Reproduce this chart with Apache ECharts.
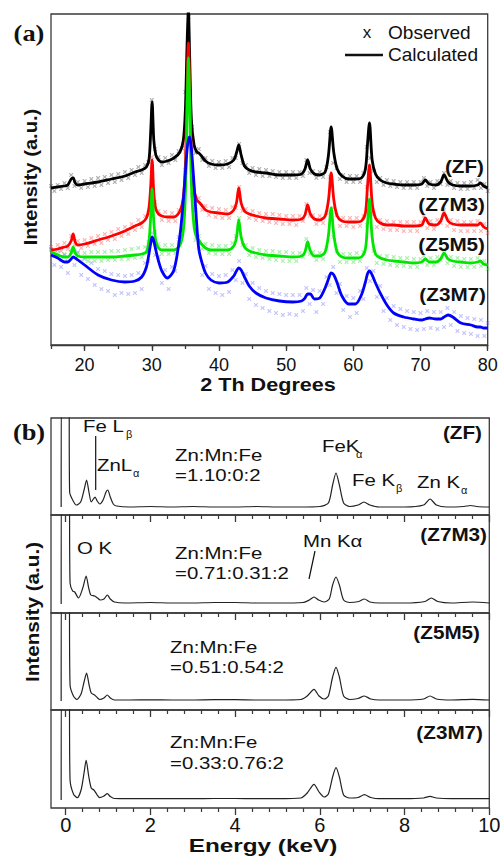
<!DOCTYPE html>
<html><head><meta charset="utf-8">
<script src="https://cdn.jsdelivr.net/npm/echarts@6/dist/echarts.min.js"></script>
<style>html,body{margin:0;padding:0;background:#fff}#c{width:504px;height:859px}</style>
</head><body><div id="c"></div>
<script>
// ---------- (a) XRD: calculated curves (2θ, intensity a.u.) ----------
const calcX = [15,16,17,17.5,18,18.3,18.6,19,20,22, 24,26,27.5,28.5,29.2,29.6,29.85,30.05,30.3,30.6,
  31,31.5,32.3,33.3,34.2,34.7,35.0,35.25,35.45,35.65, 35.9,36.3,36.7,37.0,37.4,38,38.8,40,41.3,42.2,
  42.6,42.95,43.3,43.8,44.5,45.5,47,49,51,52.3, 52.8,53.2,53.6,54.2,55,55.8,56.3,56.7,57.1,57.6,
  58.3,59.3,60.3,61.2,61.8,62.1,62.4,62.8,63.3,64, 65,66,67.5,69,70.2,70.7,71.3,72.3,73,73.5,
  74.1,74.8,76,77.5,78.5,78.9,79.4,80];
const calcZF = [157,158,159,160,166,167,162,160,161,163, 166,169,173,175,178,186,215,243,205,190,
  185,183,184,187,193,205,235,300,335,285, 225,200,193,192,189,184,181,180,181,185,
  192,200,190,179,175,173,172,170,170,171, 176,185,176,171,170,173,190,218,192,176,
  169,166,166,167,176,200,222,185,171,165, 162,161,160,160,161,165,161,160,163,170,
  163,160,159,159,160,162,159,157];
const calcZ7M3 = [95,96,98,99,104,111,103,100,101,105, 109,114,119,122,127,138,160,185,152,136,
  131,129,128,128,134,148,180,250,302,255, 190,155,145,143,140,135,133,132,131,135,
  142,157,142,134,131,129,127,126,125,126, 130,140,131,126,125,129,145,172,145,129,
  124,123,123,124,132,158,180,142,127,122, 120,120,119,119,120,127,121,120,124,132,
  124,121,120,120,120,122,118,116];
const calcZ5M5 = [93,90,88,88,92,98,92,89,88,88, 88,89,90,91,93,105,130,156,123,104,
  97,95,95,95,100,115,150,230,287,240, 160,118,107,105,101,97,95,95,95,99,
  107,125,108,98,94,92,90,89,88,89, 93,103,94,89,89,93,110,137,110,93,
  88,87,87,88,96,120,146,108,91,87, 85,84,83,82,83,86,83,83,86,92,
  86,84,83,82,83,84,81,80];
const calcZ3M7 = [90,87,83,83,86,88,87,85,80,70, 65,63,64,68,78,92,102,108,104,95,
  84,74,67,75,110,145,172,195,205,208, 196,160,120,96,84,72,65,62,63,69,
  74,77,75,68,59,52,47,44,43,44, 47,51,51,46,47,57,66,72,70,62,
  49,41,41,50,63,71,74,70,62,52, 40,32,28,26,25,26,27,26,26,28,
  30,28,22,20,18,18,17,17];

// ---------- (a) XRD: observed points, 2θ = 15 … 80 every 0.5 ----------
const obsX = [15,15.5,16,16.5,17,17.5,18,18.5,19,19.5, 20,20.5,21,21.5,22,22.5,23,23.5,24,24.5,
  25,25.5,26,26.5,27,27.5,28,28.5,29,29.5, 30,30.5,31,31.5,32,32.5,33,33.5,34,34.5,
  35,35.5,36,36.5,37,37.5,38,38.5,39,39.5, 40,40.5,41,41.5,42,42.5,43,43.5,44,44.5,
  45,45.5,46,46.5,47,47.5,48,48.5,49,49.5, 50,50.5,51,51.5,52,52.5,53,53.5,54,54.5,
  55,55.5,56,56.5,57,57.5,58,58.5,59,59.5, 60,60.5,61,61.5,62,62.5,63,63.5,64,64.5,
  65,65.5,66,66.5,67,67.5,68,68.5,69,69.5, 70,70.5,71,71.5,72,72.5,73,73.5,74,74.5,
  75,75.5,76,76.5,77,77.5,78,78.5,79,79.5, 80];
const obsZF = [159,154,160,156,162,157,170,159,163,157, 164,158,166,159,167,160,168,162,170,163,
  171,165,173,167,175,170,178,172,180,183, 245,196,188,180,187,182,190,185,194,197,
  253,328,218,192,196,185,187,179,184,177, 183,177,184,178,187,187,201,182,180,172,
  177,170,176,169,175,169,174,168,173,167, 173,167,173,167,173,169,185,172,174,167,
  173,168,178,213,182,177,166,170,163,169, 163,169,163,172,198,187,174,163,167,160,
  165,159,164,158,163,157,163,157,163,157, 163,167,159,163,157,164,161,172,160,164,
  157,162,156,162,156,163,157,165,157,161, 154];
const obsZ7M3 = [98,93,100,94,102,96,109,100,104,97, 105,99,107,101,109,102,111,105,113,106,
  116,109,118,111,121,115,125,118,129,132, 188,143,134,125,133,124,132,124,135,137,
  193,287,179,141,147,135,139,130,137,128, 136,127,135,127,138,137,158,134,136,127,
  134,125,132,124,131,123,131,122,130,121, 129,121,129,120,129,124,141,129,130,121,
  129,122,132,168,137,130,119,127,119,127, 118,127,119,129,158,173,131,118,125,116,
  124,115,123,115,123,114,123,114,123,114, 123,129,117,124,116,125,122,135,119,125,
  115,124,114,123,114,123,114,124,114,121, 112];
const obsZ5M5 = [95,89,92,85,91,84,95,94,92,84, 92,84,93,84,93,84,93,85,94,85,
  94,86,95,86,96,87,97,88,98,103, 158,113,101,91,100,91,100,92,103,114,
  170,285,150,105,109,96,101,92,100,91, 99,91,99,91,102,109,127,100,100,90,
  97,88,95,87,94,86,94,85,93,84, 93,84,92,84,92,88,106,91,93,85,
  92,86,97,133,108,94,83,91,83,91, 83,92,84,93,120,140,94,82,89,81,
  89,80,88,79,87,79,87,78,86,78, 86,89,80,87,80,88,85,95,82,88,
  79,87,78,86,78,86,78,87,79,84, 76];
const obsZ3M7 = [96,80,95,78,90,72,93,80,93,70, 86,66,82,60,76,56,74,54,71,50,
  70,52,69,51,70,52,72,56,82,84, 112,90,88,62,75,56,78,74,108,122,
  175,200,196,135,102,70,79,56,71,52, 69,50,70,53,75,65,84,62,71,46,
  62,40,57,37,54,34,52,32,51,30, 50,31,50,30,50,34,57,41,55,33,
  54,41,68,60,78,52,61,35,49,28, 47,32,54,46,77,64,74,48,59,34,
  47,25,39,20,36,18,34,16,33,15, 32,16,34,17,33,16,33,18,37,20,
  33,14,29,12,27,11,26,9,25,9, 22];

// ---------- (b) EDS spectra (energy keV, counts a.u.) ----------
const zfE = [-0.11,-0.09,0.07,0.09,0.15,0.25,0.35,0.43,0.49,0.55, 0.6,0.65,0.69,0.74,0.8,0.88,0.95,0.99,1.05,1.12,
  1.2,1.5,2,2.5,3,3.5,4,4.5,5,5.5, 6.0,6.2,6.3,6.38,6.46,6.56,6.7,6.9,7.04,7.18,
  7.4,8,8.45,8.6,8.75,9.0,9.4,9.56,9.7,10];
const zfI = [8,150,150,23,16,10,13,25,35,22, 13,16,18,14,11,15,23,25,18,11,
  9,8,8.5,8,8.5,8,8,8.5,8,8, 8.5,12,30,42,30,12,8.5,10,13,10,
  8,8,10,16,10,8,8.5,9.5,8.5,8];
const z7m3E = [-0.11,-0.09,0.07,0.1,0.16,0.21,0.3,0.4,0.48,0.54, 0.59,0.68,0.75,0.81,0.9,0.98,1.05,1.15,1.4,2,
  2.5,3,3.5,4,4.5,5,5.6,5.75,5.86,5.97, 6.1,6.22,6.3,6.38,6.46,6.56,6.7,6.92,7.05,7.18,
  7.4,8,8.48,8.63,8.78,9.1,9.6,10];
const z7m3I = [9,150,150,30,22,21,15,25,37,25, 18,17,15,13,14,18,14,11,10,10.5,
  10,10,10.5,10.5,10,10,10.5,13,16,13, 11,14,28,36,28,13,10.5,11.5,14,11,
  10,10,11.5,15,11.5,10,11,10];
const z5m5E = [-0.11,-0.09,0.07,0.1,0.18,0.26,0.36,0.43,0.49,0.55, 0.6,0.68,0.75,0.8,0.9,0.98,1.05,1.15,1.5,2,
  2.5,3,3.5,4,4.5,5,5.55,5.7,5.86,5.98, 6.1,6.2,6.3,6.38,6.46,6.56,6.7,6.9,7.05,7.2,
  7.4,8,8.45,8.6,8.75,9.1,9.6,10];
const z5m5I = [9,150,150,25,14,10.5,16,28,37,25, 17,15,12,10.5,12,15,12,10,10,10.2,
  10,10,10.3,10.3,10,10,10.5,14,20.7,14, 11,14,33,42.7,33,14,10.5,11.5,14,11,
  10,10,11,14,11,10,10.7,10];
const z3m7E = [-0.11,-0.09,0.07,0.1,0.18,0.27,0.36,0.43,0.48,0.54, 0.6,0.67,0.74,0.8,0.9,0.98,1.05,1.15,1.5,2,
  2.5,3,3.5,4,4.5,5,5.55,5.7,5.86,5.98, 6.1,6.2,6.3,6.38,6.46,6.56,6.7,6.9,7.05,7.2,
  7.4,8,8.45,8.6,8.75,9.1,9.6,10];
const z3m7I = [8,150,150,28,14,10.3,18,35,47.7,32, 20,17.7,13,10.3,12,14.3,11.5,9.5,9.3,9.5,
  9.3,9.3,9.5,9.5,9.3,9.3,10,15,23.7,16, 11,14,31,40.3,31,13,10,10.5,13.3,10.5,
  9.3,9.3,10,11.7,10,9.3,9.5,9.3];

const xrdTickLabels = [20,30,40,50,60,70,80];
const edsTickLabels = [0,2,4,6,8,10];

// ---------- chart ----------
const zip = (a, b) => a.map((v, i) => [v, b[i]]);
const chart = echarts.init(document.getElementById('c'), null, {renderer: 'svg'});
const AX = '#3a3a3a';
const FONT = '"Liberation Sans", Arial, sans-serif';

const topGrid = {left: 51, top: 14, width: 436.7, height: 331};
const edsTop = [418, 515, 613, 710];
const edsH = [97, 98, 97, 98];

const grids = [
  Object.assign({show: true, borderColor: AX, borderWidth: 1.3}, topGrid),
  {left: 84.6, top: 14, width: 403.1, height: 331}
];
const xAxes = [
  {gridIndex: 0, type: 'value', min: 15, max: 80, interval: 5,
   axisLine: {show: true, lineStyle: {color: AX, width: 1.3}},
   axisTick: {show: true, length: 4, lineStyle: {color: AX, width: 1.3}},
   axisLabel: {show: false}, splitLine: {show: false}},
  {gridIndex: 1, type: 'value', min: xrdTickLabels[0], max: xrdTickLabels[xrdTickLabels.length - 1], interval: 10,
   axisLine: {show: false},
   axisTick: {show: true, length: 6, lineStyle: {color: AX, width: 1.3}},
   axisLabel: {show: true, fontSize: 18, color: '#111', margin: 11, fontFamily: FONT},
   splitLine: {show: false}}
];
const yAxes = [
  {gridIndex: 0, type: 'value', min: 0, max: 331, show: false},
  {gridIndex: 1, type: 'value', min: 0, max: 331, show: false}
];
edsTop.forEach((t, i) => {
  grids.push({left: 51, top: t, width: 438.3, height: edsH[i], show: true, borderColor: AX, borderWidth: 1.3});
  grids.push({left: 65.7, top: t, width: 423.6, height: edsH[i]});
  xAxes.push({gridIndex: 2 + 2 * i, type: 'value', min: -0.35, max: 10, show: false});
  xAxes.push({gridIndex: 3 + 2 * i, type: 'value', min: edsTickLabels[0], max: edsTickLabels[edsTickLabels.length - 1], interval: 2,
    axisLine: {show: false},
    axisTick: {show: true, length: 7, lineStyle: {color: AX, width: 1.3}},
    minorTick: {show: true, splitNumber: 5, length: 4, lineStyle: {color: AX, width: 1.2}},
    axisLabel: {show: i === 3, fontSize: 20, color: '#111', margin: 7, fontFamily: FONT},
    splitLine: {show: false}, minorSplitLine: {show: false}});
  yAxes.push({gridIndex: 2 + 2 * i, type: 'value', min: 0, max: edsH[i], show: false});
  yAxes.push({gridIndex: 3 + 2 * i, type: 'value', min: 0, max: edsH[i], show: false});
});

const xMark = 'path://M0 0L2 0L5 3L8 0L10 0L10 2L7 5L10 8L10 10L8 10L5 7L2 10L0 10L0 8L3 5L0 2Z';
function obs(name, ys, color) {
  return {type: 'scatter', name: name, xAxisIndex: 0, yAxisIndex: 0, data: zip(obsX, ys),
    symbol: xMark, symbolSize: 4, itemStyle: {color: color}, silent: true, z: 2};
}
function calc(name, ys, color) {
  return {type: 'line', name: name, xAxisIndex: 0, yAxisIndex: 0, data: zip(calcX, ys),
    showSymbol: false, smooth: 0.3, lineStyle: {color: color, width: 2.8}, silent: true, z: 3, clip: true};
}
const series = [
  obs('ZF observed', obsZF, 'rgba(70,70,70,0.55)'),
  obs('Z7M3 observed', obsZ7M3, 'rgba(255,80,80,0.55)'),
  obs('Z5M5 observed', obsZ5M5, 'rgba(60,220,60,0.55)'),
  obs('Z3M7 observed', obsZ3M7, 'rgba(90,90,255,0.45)'),
  calc('ZF calculated', calcZF, '#000000'),
  calc('Z7M3 calculated', calcZ7M3, '#ff0000'),
  calc('Z5M5 calculated', calcZ5M5, '#00e600'),
  calc('Z3M7 calculated', calcZ3M7, '#0000ff')
];
[[zfE, zfI], [z7m3E, z7m3I], [z5m5E, z5m5I], [z3m7E, z3m7I]].forEach((p, i) => {
  series.push({type: 'line', xAxisIndex: 2 + 2 * i, yAxisIndex: 2 + 2 * i, data: zip(p[0], p[1]),
    showSymbol: false, smooth: 0.25, lineStyle: {color: '#222', width: 1.2}, silent: true, clip: true});
});

function T(x, y, text, o) {
  o = o || {};
  const a = o.a || 'left';
  return {type: 'text', x: x, y: y, scaleX: o.sx || 1.2, rotation: o.rot || 0, silent: true, z: 100,
    style: {text: text, fill: '#111',
      font: (o.w || 'normal') + ' ' + (o.fs || 17) + 'px ' + (o.ff || FONT),
      textAlign: a, align: a, textVerticalAlign: 'middle', verticalAlign: 'middle'}};
}
function L(x1, y1, x2, y2, w) {
  return {type: 'line', silent: true, z: 100, shape: {x1: x1, y1: y1, x2: x2, y2: y2},
    style: {stroke: '#111', lineWidth: w || 1.2}};
}
const SERIF = '"Liberation Serif", "Times New Roman", serif';
const B = {w: 'bold', fs: 18, a: 'right', sx: 1.15};
const graphics = [
  // panel (a)
  T(29, 33, '(a)', {w: 'bold', fs: 24, ff: SERIF, a: 'center', sx: 1.1}),
  T(367, 32, 'x', {fs: 17, a: 'center', sx: 1}),
  T(388, 33, 'Observed', {fs: 18, sx: 1.06}),
  L(345, 55, 383, 55, 2.5),
  T(388, 55, 'Calculated', {fs: 18, sx: 1.06}),
  T(484, 167, '(ZF)', B),
  T(485, 205, '(Z7M3)', B),
  T(485, 245, '(Z5M5)', B),
  T(486, 295, '(Z3M7)', B),
  T(31, 177, 'Intensity (a.u.)', {w: 'bold', fs: 18, a: 'center', sx: 1.12, rot: Math.PI / 2}),
  T(268, 385, '2 Th Degrees', {w: 'bold', fs: 18, a: 'center', sx: 1.2}),
  // panel (b)
  T(29, 432, '(b)', {w: 'bold', fs: 24, ff: SERIF, a: 'center', sx: 1.1}),
  T(83, 426, 'Fe L'), T(126, 434, 'β', {fs: 11, sx: 1}),
  L(95.7, 436, 95.7, 490),
  T(97, 465, 'ZnL'), T(133, 473, 'α', {fs: 11, sx: 1}),
  T(175, 455, 'Zn:Mn:Fe'), T(175, 475, '=1.10:0:2'),
  T(322, 446, 'FeK'), T(356, 454, 'α', {fs: 11, sx: 1}),
  T(352, 480, 'Fe K'), T(396, 488, 'β', {fs: 11, sx: 1}),
  T(417, 482, 'Zn K'), T(461, 490, 'α', {fs: 11, sx: 1}),
  T(482, 433, '(ZF)', B),
  T(77, 548, 'O K'),
  T(175, 553, 'Zn:Mn:Fe'), T(175, 573, '=0.71:0.31:2'),
  T(303, 541, 'Mn Kα'),
  L(315, 551, 309, 579),
  T(487, 535, '(Z7M3)', B),
  T(170, 647, 'Zn:Mn:Fe'), T(170, 667, '=0.51:0.54:2'),
  T(480, 633, '(Z5M5)', B),
  T(170, 742, 'Zn:Mn:Fe'), T(170, 763, '=0.33:0.76:2'),
  T(483, 733, '(Z3M7)', B),
  T(33, 612, 'Intensity (a.u.)', {w: 'bold', fs: 18, a: 'center', sx: 1.15, rot: Math.PI / 2}),
  T(263, 846, 'Energy (keV)', {w: 'bold', fs: 18, a: 'center', sx: 1.35})
];

chart.setOption({
  animation: false,
  backgroundColor: '#ffffff',
  grid: grids, xAxis: xAxes, yAxis: yAxes, series: series,
  graphic: {elements: graphics}
});
</script></body></html>
